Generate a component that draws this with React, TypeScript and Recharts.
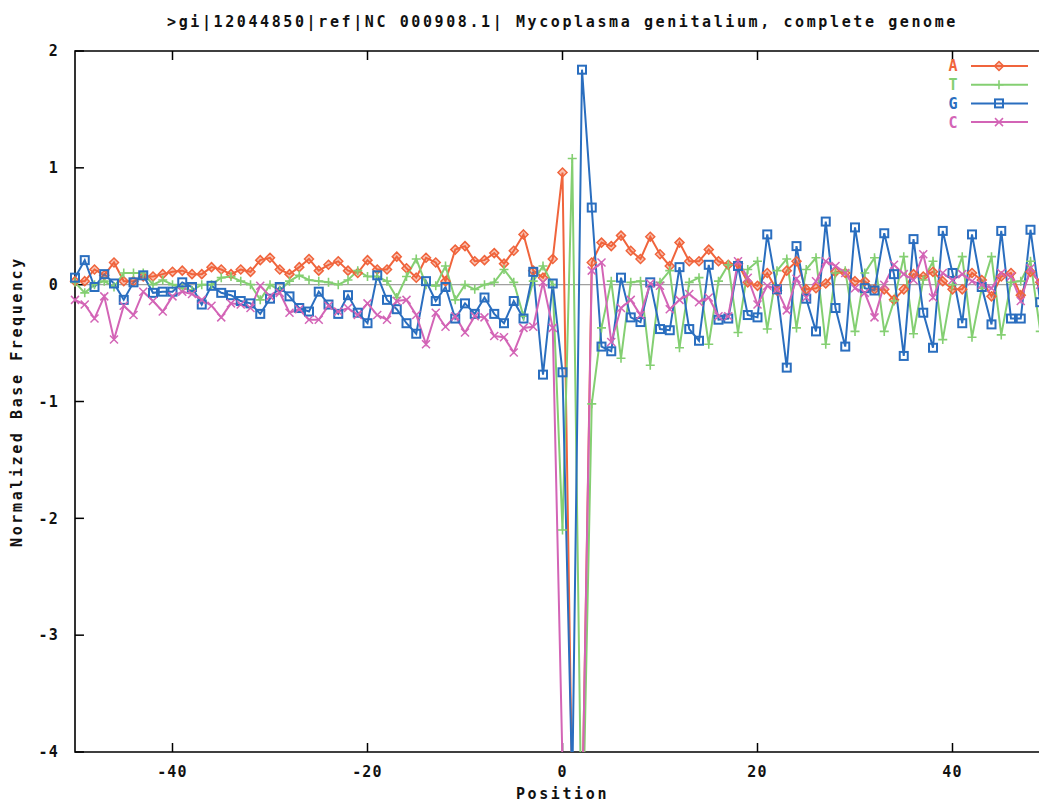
import React from 'react';
import { LineChart, Line, XAxis, YAxis, ReferenceLine, ReferenceArea } from 'recharts';

// position relative to the start codon
const positions = [
  -50, -49, -48, -47, -46, -45, -44, -43, -42, -41, -40, -39, -38, -37, -36, -35, -34,
  -33, -32, -31, -30, -29, -28, -27, -26, -25, -24, -23, -22, -21, -20, -19, -18, -17,
  -16, -15, -14, -13, -12, -11, -10, -9, -8, -7, -6, -5, -4, -3, -2, -1, 0,
  1, 2, 3, 4, 5, 6, 7, 8, 9, 10, 11, 12, 13, 14, 15, 16, 17,
  18, 19, 20, 21, 22, 23, 24, 25, 26, 27, 28, 29, 30, 31, 32, 33, 34,
  35, 36, 37, 38, 39, 40, 41, 42, 43, 44, 45, 46, 47, 48, 49, 50,
];

const freqA = [
  0.03, 0.03, 0.13, 0.08, 0.19, 0.03, 0.03, 0.07, 0.07, 0.09, 0.11, 0.12, 0.09, 0.09, 0.15, 0.13, 0.09,
  0.13, 0.11, 0.21, 0.23, 0.13, 0.09, 0.15, 0.22, 0.12, 0.17, 0.20, 0.12, 0.10, 0.21, 0.13, 0.13, 0.24,
  0.14, 0.06, 0.23, 0.19, 0.03, 0.30, 0.33, 0.20, 0.21, 0.27, 0.18, 0.29, 0.43, 0.12, 0.06, 0.22, 0.96,
  -4.4, -4.6, 0.19, 0.36, 0.33, 0.42, 0.29, 0.22, 0.41, 0.26, 0.16, 0.36, 0.20, 0.20, 0.30, 0.20, 0.17,
  0.18, 0.02, -0.01, 0.10, -0.05, 0.12, 0.20, -0.04, -0.03, 0.01, 0.11, 0.10, 0.03, 0.03, -0.04, -0.04, -0.13,
  -0.04, 0.09, 0.07, 0.11, 0.03, -0.04, -0.04, 0.10, 0.04, -0.10, 0.07, 0.10, -0.09, 0.11, 0.02, -0.05,
];

const freqT = [
  0.02, -0.07, 0.0, 0.03, -0.02, 0.10, 0.10, 0.10, 0.0, 0.04, 0.0, -0.03, -0.05, 0.0, 0.0, 0.06, 0.07,
  0.03, 0.0, -0.13, 0.0, -0.05, 0.03, 0.08, 0.04, 0.03, 0.02, 0.0, 0.04, 0.12, 0.07, 0.07, 0.03, -0.11,
  0.07, 0.22, 0.0, -0.01, 0.16, -0.13, 0.0, -0.04, 0.0, 0.02, 0.13, 0.02, -0.27, 0.03, 0.16, 0.0, -2.1,
  1.08, -5.0, -1.02, -0.37, 0.03, -0.63, 0.02, 0.03, -0.69, 0.02, 0.12, -0.54, 0.02, 0.06, -0.51, 0.03, 0.17,
  -0.41, 0.13, 0.20, -0.38, 0.12, 0.22, -0.37, 0.13, 0.23, -0.51, 0.10, 0.12, -0.40, 0.10, 0.23, -0.40, -0.14,
  0.24, -0.42, 0.04, 0.20, -0.47, 0.0, 0.24, -0.45, -0.03, 0.24, -0.43, 0.02, 0.03, 0.20, -0.40, 0.0,
];

const freqG = [
  0.06, 0.21, -0.02, 0.09, 0.01, -0.13, 0.02, 0.08, -0.07, -0.06, -0.06, 0.02, -0.02, -0.17, -0.01, -0.07, -0.09,
  -0.14, -0.16, -0.25, -0.12, -0.02, -0.10, -0.20, -0.23, -0.06, -0.17, -0.25, -0.09, -0.24, -0.33, 0.08, -0.13, -0.21,
  -0.33, -0.42, 0.03, -0.14, -0.02, -0.29, -0.16, -0.25, -0.11, -0.25, -0.33, -0.14, -0.29, 0.11, -0.77, 0.01, -0.75,
  -4.3, 1.84, 0.66, -0.53, -0.57, 0.06, -0.28, -0.32, 0.02, -0.38, -0.39, 0.15, -0.38, -0.48, 0.17, -0.30, -0.29,
  0.16, -0.26, -0.28, 0.43, -0.04, -0.71, 0.33, -0.12, -0.40, 0.54, -0.20, -0.53, 0.49, -0.03, -0.05, 0.44, 0.09,
  -0.61, 0.39, -0.24, -0.54, 0.46, 0.10, -0.33, 0.43, -0.02, -0.34, 0.46, -0.29, -0.29, 0.47, -0.15, -0.30,
];

const freqC = [
  -0.13, -0.17, -0.29, -0.10, -0.47, -0.18, -0.26, -0.06, -0.14, -0.23, -0.10, -0.06, -0.08, -0.13, -0.18, -0.28, -0.16,
  -0.17, -0.20, -0.01, -0.10, -0.07, -0.24, -0.21, -0.30, -0.30, -0.18, -0.23, -0.20, -0.26, -0.16, -0.26, -0.30, -0.14,
  -0.13, -0.26, -0.51, -0.24, -0.36, -0.27, -0.41, -0.27, -0.28, -0.44, -0.45, -0.58, -0.37, -0.36, 0.02, -0.37, -4.1,
  -4.8, -4.6, 0.12, 0.19, -0.49, -0.20, -0.13, -0.26, 0.01, -0.01, -0.21, -0.13, -0.08, -0.15, -0.11, -0.27, -0.27,
  0.20, 0.06, -0.17, -0.01, -0.04, -0.22, 0.05, -0.11, 0.03, 0.20, 0.16, 0.10, -0.03, -0.07, -0.28, 0.0, 0.17,
  0.09, 0.04, 0.26, -0.11, 0.10, 0.04, 0.09, 0.03, 0.0, -0.03, 0.10, 0.07, -0.14, 0.14, 0.0, 0.05,
];

const xTicks = [-40, -20, 0, 20, 40];
const yTicks = [-4, -3, -2, -1, 0, 1, 2];

const FONT = '"DejaVu Sans Mono", "Liberation Mono", monospace';
const textStyle = { fontFamily: FONT, fontSize: 15, fontWeight: 'bold', letterSpacing: '2.6px', fill: '#111' };
const tickStyle = { ...textStyle, letterSpacing: '1.2px' };

const series = [
  { key: 'A', color: '#f0643c', shape: 'diamond' },
  { key: 'T', color: '#84cf72', shape: 'plus' },
  { key: 'G', color: '#2a6ebf', shape: 'square' },
  { key: 'C', color: '#d364b6', shape: 'cross' },
];

const chartData = positions.map((pos, i) => ({
  pos,
  A: freqA[i],
  T: freqT[i],
  G: freqG[i],
  C: freqC[i],
}));

function Marker({ shape, x, y, color }: { shape: string; x: number; y: number; color: string }) {
  switch (shape) {
    case 'diamond':
      return (
        <polygon
          points={`${x},${y - 4.5} ${x + 4.5},${y} ${x},${y + 4.5} ${x - 4.5},${y}`}
          fill={color}
          fillOpacity={0.4}
          stroke={color}
          strokeWidth={1.5}
        />
      );
    case 'plus':
      return <path d={`M${x - 4.5},${y}H${x + 4.5}M${x},${y - 4.5}V${y + 4.5}`} stroke={color} strokeWidth={1.6} />;
    case 'square':
      return <rect x={x - 4} y={y - 4} width={8} height={8} fill="none" stroke={color} strokeWidth={2} />;
    default:
      return (
        <path
          d={`M${x - 4},${y - 4}L${x + 4},${y + 4}M${x - 4},${y + 4}L${x + 4},${y - 4}`}
          stroke={color}
          strokeWidth={1.5}
        />
      );
  }
}

// key box in the top right corner, as gnuplot draws it
function KeyBox() {
  return (
    <svg width={100} height={76} style={{ position: 'absolute', left: 940, top: 57 }}>
      {series.map((s, i) => {
        const y = 9 + i * 18.7;
        return (
          <g key={s.key}>
            <text
              x={13}
              y={y}
              dy="0.36em"
              textAnchor="middle"
              fill={s.color}
              style={{ fontFamily: FONT, fontSize: 15, fontWeight: 'bold' }}
            >
              {s.key}
            </text>
            <line x1={31} x2={88} y1={y} y2={y} stroke={s.color} strokeWidth={2} />
            <Marker shape={s.shape} x={59} y={y} color={s.color} />
          </g>
        );
      })}
    </svg>
  );
}

export default function App() {
  return (
    <div
      style={{
        position: 'absolute',
        left: 0,
        top: 0,
        width: 1039,
        height: 805,
        overflow: 'hidden',
        background: '#fff',
      }}
    >
      <div
        style={{
          position: 'absolute',
          left: 0,
          top: 14,
          width: 1125,
          textAlign: 'center',
          fontFamily: FONT,
          fontSize: 15,
          fontWeight: 'bold',
          letterSpacing: '2.6px',
          lineHeight: '16px',
          color: '#111',
          whiteSpace: 'nowrap',
        }}
      >
        &gt;gi|12044850|ref|NC 000908.1| Mycoplasma genitalium, complete genome
      </div>
      <LineChart width={1100} height={805} data={chartData} margin={{ top: 51, right: 50, bottom: 0, left: 0 }}>
        <XAxis
          dataKey="pos"
          type="number"
          domain={[-50, 50]}
          ticks={xTicks}
          height={53}
          axisLine={false}
          tickLine={false}
          tickSize={0}
          tickMargin={14}
          tick={tickStyle}
          label={{ value: 'Position', position: 'insideBottom', offset: 6, style: textStyle }}
        />
        <YAxis
          type="number"
          domain={[-4, 2]}
          ticks={yTicks}
          allowDataOverflow
          width={75}
          axisLine={false}
          tickLine={false}
          tickSize={0}
          tickMargin={16}
          tick={tickStyle}
          label={{
            value: 'Normalized Base Frequency',
            angle: -90,
            position: 'insideLeft',
            offset: 17,
            style: { ...textStyle, textAnchor: 'middle' },
          }}
        />
        <ReferenceLine y={0} stroke="#a0a0a0" strokeWidth={1.2} />
        <ReferenceArea x1={-50} x2={50} y1={-4} y2={2} fill="none" stroke="#000" strokeWidth={1.6} />
        {xTicks.map((t) => (
          <ReferenceLine key={`xb${t}`} segment={[{ x: t, y: -4 }, { x: t, y: -3.923 }]} stroke="#000" strokeWidth={1.5} />
        ))}
        {xTicks.map((t) => (
          <ReferenceLine key={`xt${t}`} segment={[{ x: t, y: 2 }, { x: t, y: 1.923 }]} stroke="#000" strokeWidth={1.5} />
        ))}
        {yTicks.map((t) => (
          <ReferenceLine key={`yl${t}`} segment={[{ x: -50, y: t }, { x: -49.08, y: t }]} stroke="#000" strokeWidth={1.5} />
        ))}
        {series.map((s) => (
          <Line
            key={s.key}
            type="linear"
            dataKey={s.key}
            stroke={s.color}
            strokeWidth={2}
            isAnimationActive={false}
            activeDot={false}
            dot={(p: any) => (
              <g key={`${s.key}-${p.index}`}>
                {p.cx != null && p.cy != null ? <Marker shape={s.shape} x={p.cx} y={p.cy} color={s.color} /> : null}
              </g>
            )}
          />
        ))}
      </LineChart>
      <KeyBox />
    </div>
  );
}
